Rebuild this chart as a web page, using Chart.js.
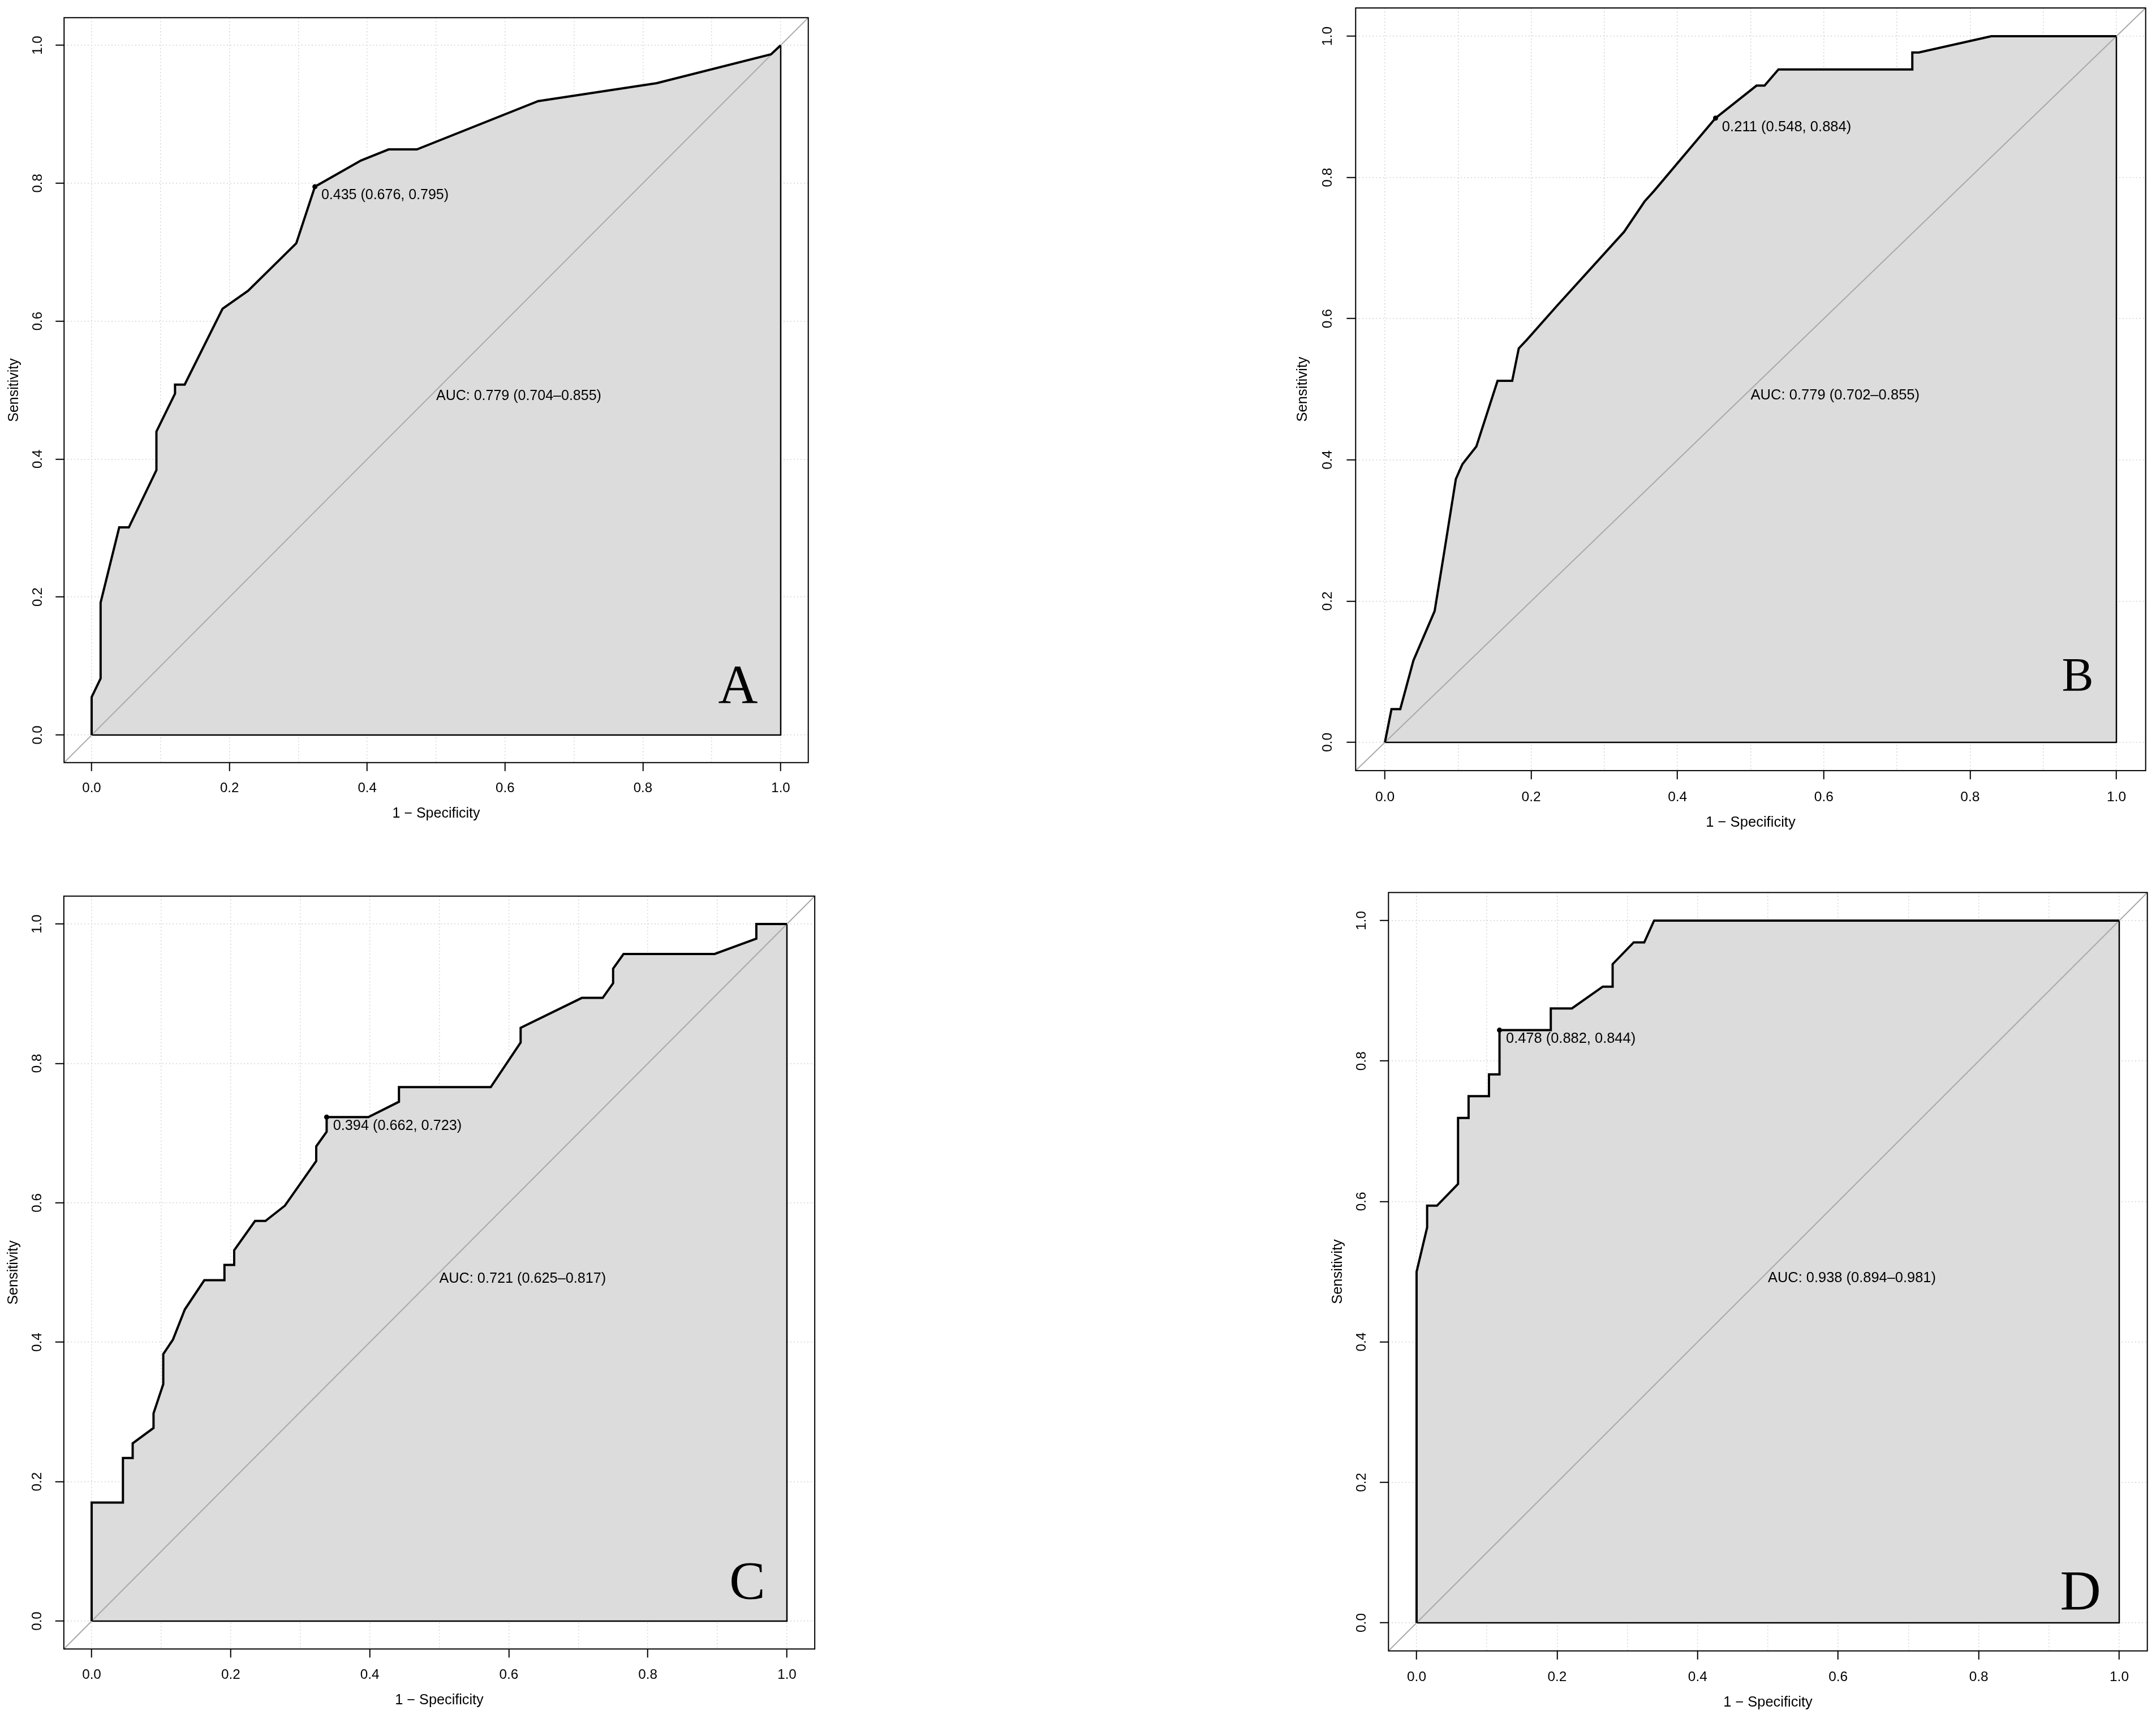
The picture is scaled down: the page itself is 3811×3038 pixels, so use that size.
<!DOCTYPE html>
<html>
<head>
<meta charset="utf-8">
<title>ROC curves A-D</title>
<script src="https://cdn.jsdelivr.net/npm/chart.js@4.4.1/dist/chart.umd.min.js"></script>
<style>
  html, body { margin: 0; padding: 0; background: #fff; }
  body { width: 3811px; height: 3038px; position: relative; overflow: hidden; }
  .panel { position: absolute; }
  .panel canvas { display: block; }
</style>
</head>
<body>
<div class="panel" id="panelA"><canvas id="chartA"></canvas></div>
<div class="panel" id="panelB"><canvas id="chartB"></canvas></div>
<div class="panel" id="panelC"><canvas id="chartC"></canvas></div>
<div class="panel" id="panelD"><canvas id="chartD"></canvas></div>
<script>
// ---- data ----
const xTickValues = [0, 0.1, 0.2, 0.3, 0.4, 0.5, 0.6, 0.7, 0.8, 0.9, 1.0];
const yTickValues = [0, 0.2, 0.4, 0.6, 0.8, 1.0];
const axisMin = -0.04;
const axisMax = 1.04;

const panelLetters = ["A", "B", "C", "D"];
const aucLabels = [
  "AUC: 0.779 (0.704\u20130.855)",
  "AUC: 0.779 (0.702\u20130.855)",
  "AUC: 0.721 (0.625\u20130.817)",
  "AUC: 0.938 (0.894\u20130.981)"
];
const thresholdLabels = [
  "0.435 (0.676, 0.795)",
  "0.211 (0.548, 0.884)",
  "0.394 (0.662, 0.723)",
  "0.478 (0.882, 0.844)"
];
// best threshold point: x = 1 - specificity, y = sensitivity
const thresholdFpr = [0.324, 0.452, 0.338, 0.118];
const thresholdSens = [0.795, 0.884, 0.723, 0.844];

// ROC curves (1 - specificity, sensitivity)
const rocA_fpr  = [0, 0, 0.013, 0.013, 0.040, 0.054, 0.094, 0.094, 0.121, 0.121, 0.135, 0.190, 0.227, 0.297, 0.324, 0.391, 0.431, 0.472, 0.648, 0.820, 0.986, 1];
const rocA_sens = [0, 0.055, 0.082, 0.192, 0.301, 0.301, 0.384, 0.440, 0.495, 0.508, 0.508, 0.618, 0.644, 0.713, 0.795, 0.833, 0.849, 0.849, 0.919, 0.945, 0.987, 1];

const rocB_fpr  = [0, 0.009, 0.021, 0.039, 0.068, 0.081, 0.097, 0.106, 0.125, 0.154, 0.174, 0.183, 0.194, 0.235, 0.327, 0.355, 0.368, 0.452, 0.508, 0.519, 0.538, 0.721, 0.721, 0.730, 0.829, 1];
const rocB_sens = [0, 0.047, 0.047, 0.116, 0.186, 0.269, 0.373, 0.394, 0.419, 0.512, 0.512, 0.558, 0.570, 0.618, 0.723, 0.766, 0.781, 0.884, 0.930, 0.930, 0.953, 0.953, 0.977, 0.977, 1, 1];

const rocC_fpr  = [0, 0, 0.045, 0.045, 0.059, 0.059, 0.089, 0.089, 0.103, 0.103, 0.117, 0.134, 0.162, 0.191, 0.191, 0.205, 0.205, 0.235, 0.250, 0.278, 0.323, 0.323, 0.338, 0.338, 0.398, 0.442, 0.442, 0.574, 0.617, 0.617, 0.705, 0.735, 0.750, 0.750, 0.765, 0.896, 0.956, 0.956, 1];
const rocC_sens = [0, 0.170, 0.170, 0.234, 0.234, 0.255, 0.277, 0.298, 0.340, 0.383, 0.404, 0.447, 0.489, 0.489, 0.511, 0.511, 0.532, 0.574, 0.574, 0.596, 0.660, 0.681, 0.702, 0.723, 0.723, 0.745, 0.766, 0.766, 0.830, 0.851, 0.894, 0.894, 0.915, 0.936, 0.957, 0.957, 0.979, 1, 1];

const rocD_fpr  = [0, 0, 0.015, 0.015, 0.029, 0.059, 0.059, 0.074, 0.074, 0.103, 0.103, 0.118, 0.118, 0.191, 0.191, 0.221, 0.265, 0.279, 0.279, 0.309, 0.324, 0.338, 1];
const rocD_sens = [0, 0.500, 0.563, 0.594, 0.594, 0.625, 0.719, 0.719, 0.750, 0.750, 0.781, 0.781, 0.844, 0.844, 0.875, 0.875, 0.906, 0.906, 0.938, 0.969, 0.969, 1, 1];

const curvesFpr = [rocA_fpr, rocB_fpr, rocC_fpr, rocD_fpr];
const curvesSens = [rocA_sens, rocB_sens, rocC_sens, rocD_sens];

// ---- layout: pixel position of x=0, x=1, y=0, y=1 in each panel ----
const panelLayout = [
  { x0: 162,  x1: 1380, y0: 1299, y1: 80,   letterX: 0.938, letterY: 0.047, letterSize: 97 },
  { x0: 2448, x1: 3741, y0: 1312, y1: 64,   letterX: 0.947, letterY: 0.073, letterSize: 84 },
  { x0: 162,  x1: 1391, y0: 2865, y1: 1633, letterX: 0.943, letterY: 0.032, letterSize: 95 },
  { x0: 2504, x1: 3746, y0: 2868, y1: 1627, letterX: 0.945, letterY: 0.019, letterSize: 100 }
];

const SANS = "'Liberation Sans', Arial, Helvetica, sans-serif";
const SERIF = "'Liberation Serif', 'Times New Roman', serif";

const toPoints = (xs, ys) => xs.map((x, i) => ({ x: x, y: ys[i] }));

// box, AUC text, threshold text and panel letter
const rocDecor = {
  id: "rocDecor",
  afterDatasetsDraw(chart, args, opts) {
    const { ctx, chartArea: a, scales: { x, y } } = chart;
    ctx.save();
    ctx.strokeStyle = "#000";
    ctx.lineWidth = 2;
    ctx.strokeRect(a.left, a.top, a.right - a.left, a.bottom - a.top);

    ctx.fillStyle = "#000";
    ctx.font = opts.textSize + "px " + SANS;
    ctx.textAlign = "left";
    ctx.textBaseline = "alphabetic";
    const cap = opts.textSize * 0.716;

    // threshold label, R adj = c(-0.05, 1.25)
    const px = x.getPixelForValue(opts.thrX);
    const py = y.getPixelForValue(opts.thrY);
    const w = ctx.measureText(opts.thrLabel).width;
    ctx.fillText(opts.thrLabel, px + 0.05 * w, py + 1.25 * cap);

    // AUC label, top-left at (0.5, 0.5)
    ctx.fillText(opts.aucLabel, x.getPixelForValue(0.5), y.getPixelForValue(0.5) + cap);

    // panel letter
    ctx.font = opts.letterSize + "px " + SERIF;
    ctx.textAlign = "center";
    ctx.fillText(opts.letter, x.getPixelForValue(opts.letterX), y.getPixelForValue(opts.letterY));
    ctx.restore();
  }
};

function measureWidest(labels, size) {
  const c = document.createElement("canvas").getContext("2d");
  c.font = size + "px " + SANS;
  return Math.max(...labels.map(l => c.measureText(l).width));
}

function makePanel(i) {
  const g = panelLayout[i];
  const ux = g.x1 - g.x0, uy = g.y0 - g.y1;
  const kx = ux / 1218, ky = uy / 1219;
  const L = g.x0 + axisMin * ux, R = g.x0 + axisMax * ux;
  const T = g.y0 - axisMax * uy, B = g.y0 - axisMin * uy;

  const cl = Math.floor(L - 130), ct = Math.floor(T - 40);
  const cw = Math.ceil(R + 40) - cl, ch = Math.ceil(B + 130) - ct;
  const yAxisWidth = L - cl;
  const padTop = T - ct;
  const padRight = cl + cw - R;
  const xAxisHeight = ct + ch - B;

  const tickSize = 24 * ky;
  const titleSize = 25 * ky;
  const textSize = 25 * ky;
  const tickLenX = 15 * ky, tickLenY = 15 * kx;
  const yLabels = yTickValues.map(v => v.toFixed(1));
  const widest = measureWidest(yLabels, tickSize);

  const wrap = document.getElementById("panel" + panelLetters[i]);
  wrap.style.left = cl + "px";
  wrap.style.top = ct + "px";
  const canvas = document.getElementById("chart" + panelLetters[i]);
  canvas.width = cw;
  canvas.height = ch;
  canvas.style.width = cw + "px";
  canvas.style.height = ch + "px";

  const curve = toPoints(curvesFpr[i], curvesSens[i]);

  new Chart(canvas, {
    type: "line",
    data: {
      datasets: [
        {
          label: "threshold",
          data: [{ x: thresholdFpr[i], y: thresholdSens[i] }],
          showLine: false,
          pointRadius: 4.5,
          pointBackgroundColor: "#000",
          pointBorderColor: "#000",
          pointBorderWidth: 0,
          order: 0
        },
        {
          label: "ROC",
          data: curve,
          borderColor: "#000",
          borderWidth: 4,
          fill: false,
          order: 1
        },
        {
          label: "identity",
          data: [{ x: axisMin, y: axisMin }, { x: axisMax, y: axisMax }],
          borderColor: "#A9A9A9",
          borderWidth: 2,
          fill: false,
          order: 2
        },
        {
          label: "polygon edge",
          data: [{ x: 0, y: 0 }, { x: 1, y: 0 }, { x: 1, y: 1 }],
          borderColor: "#000",
          borderWidth: 2.5,
          fill: false,
          order: 3
        },
        {
          label: "AUC area",
          data: curve,
          borderWidth: 0,
          borderColor: "rgba(0,0,0,0)",
          backgroundColor: "#DCDCDC",
          fill: "origin",
          order: 4
        }
      ]
    },
    options: {
      responsive: false,
      devicePixelRatio: 1,
      animation: false,
      events: [],
      layout: { padding: { left: 0, top: padTop, right: padRight, bottom: 0 } },
      elements: {
        point: { radius: 0, hoverRadius: 0 },
        line: { tension: 0 }
      },
      scales: {
        x: {
          type: "linear",
          min: axisMin,
          max: axisMax,
          afterBuildTicks: (s) => { s.ticks = xTickValues.map(v => ({ value: v })); },
          afterFit: (s) => { s.height = xAxisHeight; },
          ticks: {
            autoSkip: false,
            maxRotation: 0,
            color: "#000",
            padding: 46 * ky - tickLenX - tickSize * 0.6,
            font: { family: SANS, size: tickSize, lineHeight: 1.2 },
            callback: (v) => (Math.round(v * 10) % 2 === 0 ? v.toFixed(1) : "")
          },
          grid: {
            color: "#D4D4D4",
            lineWidth: 1.5,
            drawTicks: true,
            tickLength: tickLenX,
            tickWidth: 2,
            tickColor: (c) => (c.tick && Math.round(c.tick.value * 10) % 2 === 0 ? "#000" : "rgba(0,0,0,0)")
          },
          border: { display: false, dash: [2, 4] },
          title: {
            display: true,
            text: "1 \u2212 Specificity",
            color: "#000",
            font: { family: SANS, size: titleSize, lineHeight: 1.2 },
            padding: { top: 0, bottom: xAxisHeight - 90 * ky - titleSize * 0.6 }
          }
        },
        y: {
          type: "linear",
          min: axisMin,
          max: axisMax,
          afterBuildTicks: (s) => { s.ticks = yTickValues.map(v => ({ value: v })); },
          afterFit: (s) => { s.width = yAxisWidth; },
          ticks: {
            autoSkip: false,
            minRotation: 90,
            maxRotation: 90,
            crossAlign: "center",
            color: "#000",
            padding: 46 * kx - tickLenY - widest / 2,
            font: { family: SANS, size: tickSize, lineHeight: 1.2 },
            callback: (v) => v.toFixed(1)
          },
          grid: {
            color: "#D4D4D4",
            lineWidth: 1.5,
            drawTicks: true,
            tickLength: tickLenY,
            tickWidth: 2,
            tickColor: "#000"
          },
          border: { display: false, dash: [2, 4] },
          title: {
            display: true,
            text: "Sensitivity",
            color: "#000",
            font: { family: SANS, size: titleSize, lineHeight: 1.2 },
            padding: { top: yAxisWidth - 88 * kx - titleSize * 0.6, bottom: 0 }
          }
        }
      },
      plugins: {
        legend: { display: false },
        tooltip: { enabled: false },
        rocDecor: {
          textSize: textSize,
          thrX: thresholdFpr[i],
          thrY: thresholdSens[i],
          thrLabel: thresholdLabels[i],
          aucLabel: aucLabels[i],
          letter: panelLetters[i],
          letterX: g.letterX,
          letterY: g.letterY,
          letterSize: g.letterSize
        }
      }
    },
    plugins: [rocDecor]
  });
}

for (let i = 0; i < 4; i++) makePanel(i);
</script>
</body>
</html>
